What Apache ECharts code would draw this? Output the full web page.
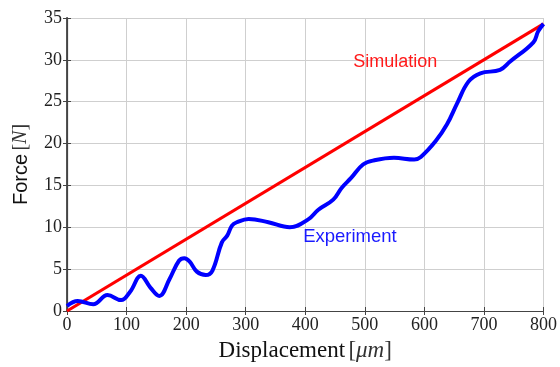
<!DOCTYPE html>
<html>
<head>
<meta charset="utf-8">
<script src="https://cdn.jsdelivr.net/npm/echarts@6/dist/echarts.min.js"></script>
<style>
  html, body { margin: 0; padding: 0; background: #fff; }
  #chart { width: 560px; height: 367px; }
</style>
</head>
<body>
<div id="chart"></div>
<script>
// Displacement (µm) and measured force (N)
const expDisp = [0, 18, 44, 68, 91, 106, 124, 140, 155, 172, 188, 197, 206, 218, 233, 244, 260, 269, 277, 285, 305, 338, 374, 405, 422, 447, 461, 477, 497, 516, 549, 583, 594, 619, 638, 655, 674, 694, 727, 744, 783, 791, 800];
const expForce = [0.6, 1.2, 0.8, 1.9, 1.3, 2.3, 4.2, 2.8, 1.8, 3.8, 6.0, 6.3, 5.9, 4.7, 4.3, 4.8, 8.2, 9.0, 10.2, 10.6, 11.0, 10.6, 10.0, 10.95, 12.1, 13.3, 14.7, 15.9, 17.5, 18.0, 18.3, 18.1, 18.4, 20.3, 22.3, 24.8, 27.4, 28.4, 28.8, 29.8, 32.1, 33.4, 34.3];

// Simulated linear response
const simDisp = [0, 800];
const simForce = [0, 34.3];

// Axis ranges and ticks
const xTicks = [0, 100, 200, 300, 400, 500, 600, 700, 800];
const yTicks = [0, 5, 10, 15, 20, 25, 30, 35];

// Curve annotations: [label, x, y]
const simNote = ['Simulation', 551, 29.8];
const expNote = ['Experiment', 475, 8.9];

const pairs = (xs, ys) => xs.map((x, i) => [x, ys[i]]);

const frameColor = '#444';
const gridColor = '#cfcfcf';
const tickFont = { fontFamily: 'Liberation Serif', fontSize: 18, color: '#222' };

const chart = echarts.init(document.getElementById('chart'), null, { renderer: 'canvas' });

chart.setOption({
  animation: false,
  backgroundColor: '#fff',
  grid: { left: 67, right: 15, top: 18, bottom: 55, containLabel: false },
  xAxis: [
    {
      type: 'value',
      min: xTicks[0], max: xTicks[xTicks.length - 1], interval: 100,
      position: 'bottom',
      axisLine: { show: true, onZero: false, lineStyle: { color: frameColor, width: 1.2 } },
      axisTick: { show: true, inside: true, length: 4, lineStyle: { color: frameColor } },
      axisLabel: Object.assign({ margin: 5 }, tickFont),
      splitLine: { show: true, lineStyle: { color: gridColor, width: 1 } },
      name: '{a|Displacement} {b|[}{c|μm}{b|]}',
      nameLocation: 'middle',
      nameGap: 28,
      nameTextStyle: {
        rich: {
          a: { fontFamily: 'Liberation Serif', fontSize: 23, color: '#111' },
          b: { fontFamily: 'Liberation Serif', fontSize: 23, color: '#333' },
          c: { fontFamily: 'Liberation Serif', fontStyle: 'italic', fontSize: 23, color: '#333' }
        }
      }
    },
    {
      type: 'value',
      min: xTicks[0], max: xTicks[xTicks.length - 1], interval: 100,
      position: 'top',
      axisLine: { show: true, lineStyle: { color: frameColor, width: 1.2 } },
      axisTick: { show: true, inside: true, length: 4, lineStyle: { color: frameColor } },
      axisLabel: { show: false },
      splitLine: { show: false }
    }
  ],
  yAxis: [
    {
      type: 'value',
      min: yTicks[0], max: yTicks[yTicks.length - 1], interval: 5,
      position: 'left',
      axisLine: { show: true, onZero: false, lineStyle: { color: frameColor, width: 1.2 } },
      axisTick: { show: true, inside: true, length: 4, lineStyle: { color: frameColor } },
      axisLabel: Object.assign({ margin: 5 }, tickFont),
      splitLine: { show: true, lineStyle: { color: gridColor, width: 1 } },
      name: '{a|Force} {b|[}{c|N}{b|]}',
      nameLocation: 'middle',
      nameGap: 36,
      nameTextStyle: {
        rich: {
          a: { fontFamily: 'Liberation Sans', fontSize: 20, color: '#111' },
          b: { fontFamily: 'Liberation Serif', fontSize: 20, color: '#333' },
          c: { fontFamily: 'Liberation Serif', fontStyle: 'italic', fontSize: 20, color: '#333' }
        }
      }
    },
    {
      type: 'value',
      min: yTicks[0], max: yTicks[yTicks.length - 1], interval: 5,
      position: 'right',
      axisLine: { show: true, lineStyle: { color: frameColor, width: 1.8 } },
      axisTick: { show: true, inside: true, length: 4, lineStyle: { color: frameColor } },
      axisLabel: { show: false },
      splitLine: { show: false }
    }
  ],
  series: [
    {
      name: 'Simulation',
      type: 'line',
      data: pairs(simDisp, simForce),
      showSymbol: false,
      lineStyle: { color: '#ff0000', width: 3.2 },
      z: 3,
      markPoint: {
        symbol: 'circle', symbolSize: 0,
        label: {
          show: true, position: 'inside',
          formatter: simNote[0],
          fontFamily: 'Liberation Sans', fontSize: 18, color: '#ff1a1a'
        },
        data: [{ coord: [simNote[1], simNote[2]] }]
      }
    },
    {
      name: 'Experiment',
      type: 'line',
      data: pairs(expDisp, expForce),
      showSymbol: false,
      smooth: 0.4,
      lineStyle: { color: '#0000ff', width: 4 },
      z: 4,
      markPoint: {
        symbol: 'circle', symbolSize: 0,
        label: {
          show: true, position: 'inside',
          formatter: expNote[0],
          fontFamily: 'Liberation Sans', fontSize: 18.5, color: '#1a1aff'
        },
        data: [{ coord: [expNote[1], expNote[2]] }]
      }
    }
  ]
});
</script>
</body>
</html>
